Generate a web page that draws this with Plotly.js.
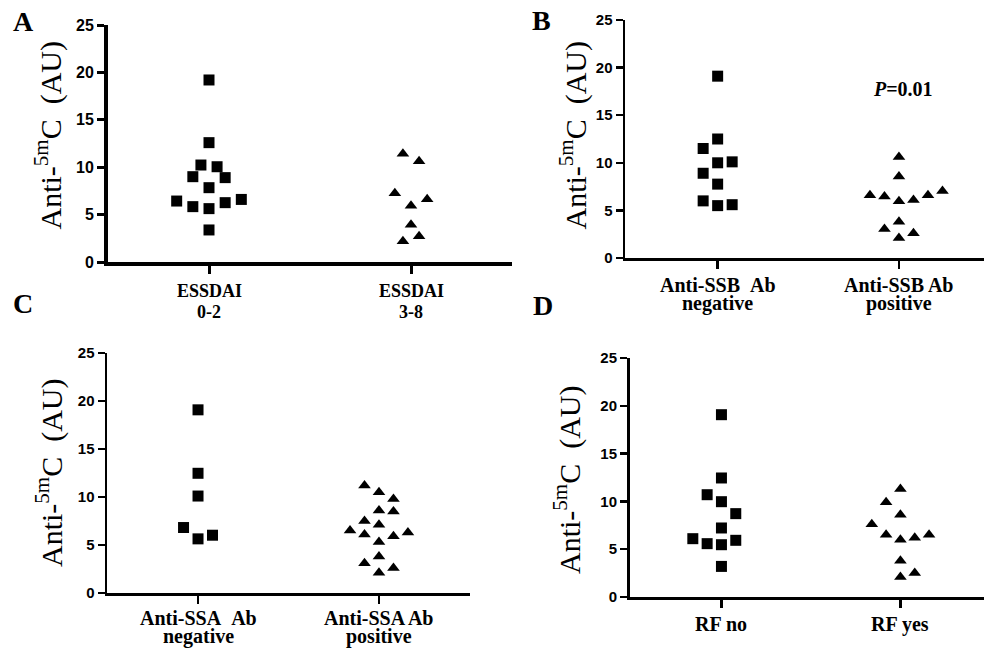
<!DOCTYPE html>
<html>
<head>
<meta charset="utf-8">
<script src="https://cdn.plot.ly/plotly-3.0.1.min.js"></script>
<style>html,body{margin:0;padding:0;background:#fff;}#chart{width:984px;height:655px;}</style>
</head>
<body>
<div id="chart"></div>
<script>
// ---------- DATA ----------
// Panel A: ESSDAI
const catsA1 = ['ESSDAI', 'ESSDAI'];
const catsA2 = ['0-2', '3-8'];
const aLowVals  = [19.2, 12.59, 10.23, 10.05, 9.0, 8.9, 7.84, 6.43, 5.84, 5.63, 6.26, 6.6, 3.38];
const aLowSlots = [0, 0, -0.5, 0.5, -1, 1, 0, -2, -1, 0, 1, 2, 0];
const aHighVals  = [11.42, 10.62, 7.24, 6.61, 5.94, 3.94, 2.71, 2.18];
const aHighSlots = [-0.5, 0.5, -1, 1, 0, 0, 0.5, -0.5];

// Panel B: Anti-SSB Ab
const catsB1 = ['Anti-SSB\u00a0\u00a0Ab', 'Anti-SSB Ab'];
const catsB2 = ['negative', 'positive'];
const bNegVals  = [19.1, 12.5, 11.5, 10.0, 10.1, 8.9, 7.76, 6.0, 5.5, 5.6];
const bNegSlots = [0, 0, -1, 0, 1, -1, 0, -1, 0, 1];
const bPosVals  = [10.6, 8.55, 6.6, 6.45, 5.95, 6.1, 6.6, 7.05, 3.8, 3.05, 2.6, 2.1];
const bPosSlots = [0, 0, -2, -1, 0, 1, 2, 3, 0, -1, 1, 0];
const pText = '<i>P</i>=0.01';

// Panel C: Anti-SSA Ab
const catsC1 = ['Anti-SSA\u00a0\u00a0Ab', 'Anti-SSA Ab'];
const catsC2 = ['negative', 'positive'];
const cNegVals  = [19.08, 12.47, 10.1, 6.82, 5.64, 6.02];
const cNegSlots = [0, 0, 0, -1, 0, 1];
const cPosVals  = [11.2, 10.5, 9.8, 8.6, 8.5, 7.5, 7.1, 6.5, 6.1, 5.9, 6.3, 5.3, 3.8, 3.1, 2.6, 2.1];
const cPosSlots = [-1, 0, 1, 0, 1, -1, 0, -2, -1, 1, 2, 0, 0, -1, 1, 0];

// Panel D: RF
const catsD1 = ['RF no', 'RF yes'];
const dNoVals  = [19.07, 12.45, 10.7, 9.97, 8.72, 7.22, 6.1, 5.58, 5.47, 5.93, 3.2];
const dNoSlots = [0, 0, -1, 0, 1, 0, -2, -1, 0, 1, 0];
const dYesVals  = [11.3, 9.9, 8.6, 7.6, 6.5, 6.0, 6.2, 6.5, 3.8, 2.5, 2.1];
const dYesSlots = [0, -1, 0, -2, -1, 0, 1, 2, 0, 1, 0];

const yTicks = [0, 5, 10, 15, 20, 25];
const panelLetters = ['A', 'B', 'C', 'D'];
const yTitle = 'Anti-<sup>5m</sup>C\u00a0\u00a0(AU)';

// ---------- BUILD ----------
const W = 984, H = 655;
const SLOT = 0.08;
const SERIF = 'Liberation Serif, Times New Roman, serif';
const SANS = 'Liberation Sans, Arial, sans-serif';
const fx = v => v / W;
const fy = v => 1 - v / H;

function pts(cat, slots) { return slots.map(s => cat + s * SLOT); }

const traces = [];
function addPair(xa, ya, v0, s0, v1, s1) {
  traces.push({x: pts(0, s0), y: v0, xaxis: xa, yaxis: ya, type: 'scatter', mode: 'markers',
    marker: {symbol: 'square', size: 11, color: '#000'}, hoverinfo: 'y'});
  traces.push({x: pts(1, s1), y: v1, xaxis: xa, yaxis: ya, type: 'scatter', mode: 'markers',
    marker: {symbol: 'triangle-up', size: 11, color: '#000'}, hoverinfo: 'y'});
}
addPair('x', 'y', aLowVals, aLowSlots, aHighVals, aHighSlots);
addPair('x2', 'y2', bNegVals, bNegSlots, bPosVals, bPosSlots);
addPair('x3', 'y3', cNegVals, cNegSlots, cPosVals, cPosSlots);
addPair('x4', 'y4', dNoVals, dNoSlots, dYesVals, dYesSlots);

const layout = {
  width: W, height: H,
  margin: {l: 0, r: 0, t: 0, b: 0},
  paper_bgcolor: '#fff', plot_bgcolor: '#fff',
  showlegend: false,
  annotations: []
};

// panel geometry (pixels)
const geo = [
  {x0: 108, x1: 512, yb: 262, yt: 25,  range: [-0.5, 1.5],   lw: 4,   tw: 3,   tf: 16},
  {x0: 625, x1: 984, yb: 258, yt: 20,  range: [-0.511, 1.469], lw: 2.5, tw: 2.5, tf: 15},
  {x0: 107, x1: 470, yb: 593, yt: 353, range: [-0.503, 1.503], lw: 2.5, tw: 2.5, tf: 15},
  {x0: 630, x1: 984, yb: 597, yt: 358, range: [-0.511, 1.467], lw: 3,   tw: 2.5, tf: 15}
];
geo.forEach((g, i) => {
  const n = i === 0 ? '' : String(i + 1);
  layout['xaxis' + n] = {
    domain: [fx(g.x0), fx(g.x1)], range: g.range, anchor: 'y' + n,
    tickvals: [0, 1], showticklabels: false, ticks: 'outside', ticklen: 8,
    tickwidth: g.tw, tickcolor: '#000', showline: true, linecolor: '#000', linewidth: g.lw,
    showgrid: false, zeroline: false, fixedrange: true
  };
  layout['yaxis' + n] = {
    domain: [fy(g.yb), fy(g.yt)], range: [0, 25], anchor: 'x' + n,
    tickvals: yTicks, ticktext: yTicks.map(v => '<b>' + v + '</b>'), ticks: 'outside', ticklen: 7,
    tickwidth: g.tw, tickcolor: '#000', showline: true, linecolor: '#000', linewidth: g.lw,
    showgrid: false, zeroline: false, fixedrange: true,
    tickfont: {family: SANS, size: g.tf, color: '#000', weight: 'bold'}
  };
});

function ann(text, x, y, xref, size, opts) {
  layout.annotations.push(Object.assign({
    text: text, x: x, y: y, xref: xref, yref: 'paper', showarrow: false,
    xanchor: 'center', yanchor: 'middle',
    font: {family: SERIF, size: size, color: '#000', weight: 'bold'}
  }, opts || {}));
}

// category labels
[0, 1].forEach(k => {
  ann('<b>' + catsA1[k] + '</b>', k, fy(291.5), 'x', 18);
  ann('<b>' + catsA2[k] + '</b>', k, fy(312), 'x', 18);
  ann('<b>' + catsB1[k] + '</b>', k, fy(285), 'x2', 20);
  ann('<b>' + catsB2[k] + '</b>', k, fy(303), 'x2', 20);
  ann('<b>' + catsC1[k] + '</b>', k, fy(617.5), 'x3', 20);
  ann('<b>' + catsC2[k] + '</b>', k, fy(636), 'x3', 20);
  ann('<b>' + catsD1[k] + '</b>', k, fy(624), 'x4', 20);
});

// y titles
[[48.5, 135], [573.5, 135], [49.5, 472.5], [567.5, 479.5]].forEach(p => {
  ann(yTitle, fx(p[0]), fy(p[1]), 'paper', 30,
    {textangle: -90, font: {family: SERIF, size: 30, color: '#000', weight: 'normal'}});
});

// panel letters
[[23.5, 21], [541, 20], [22.5, 303.5], [542.5, 305]].forEach((p, i) => {
  ann('<b>' + panelLetters[i] + '</b>', fx(p[0]), fy(p[1]), 'paper', 28);
});

// P value
ann('<b>' + pText + '</b>', fx(903), fy(89.5), 'paper', 20);

Plotly.newPlot('chart', traces, layout, {staticPlot: true, displayModeBar: false});
</script>
</body>
</html>
